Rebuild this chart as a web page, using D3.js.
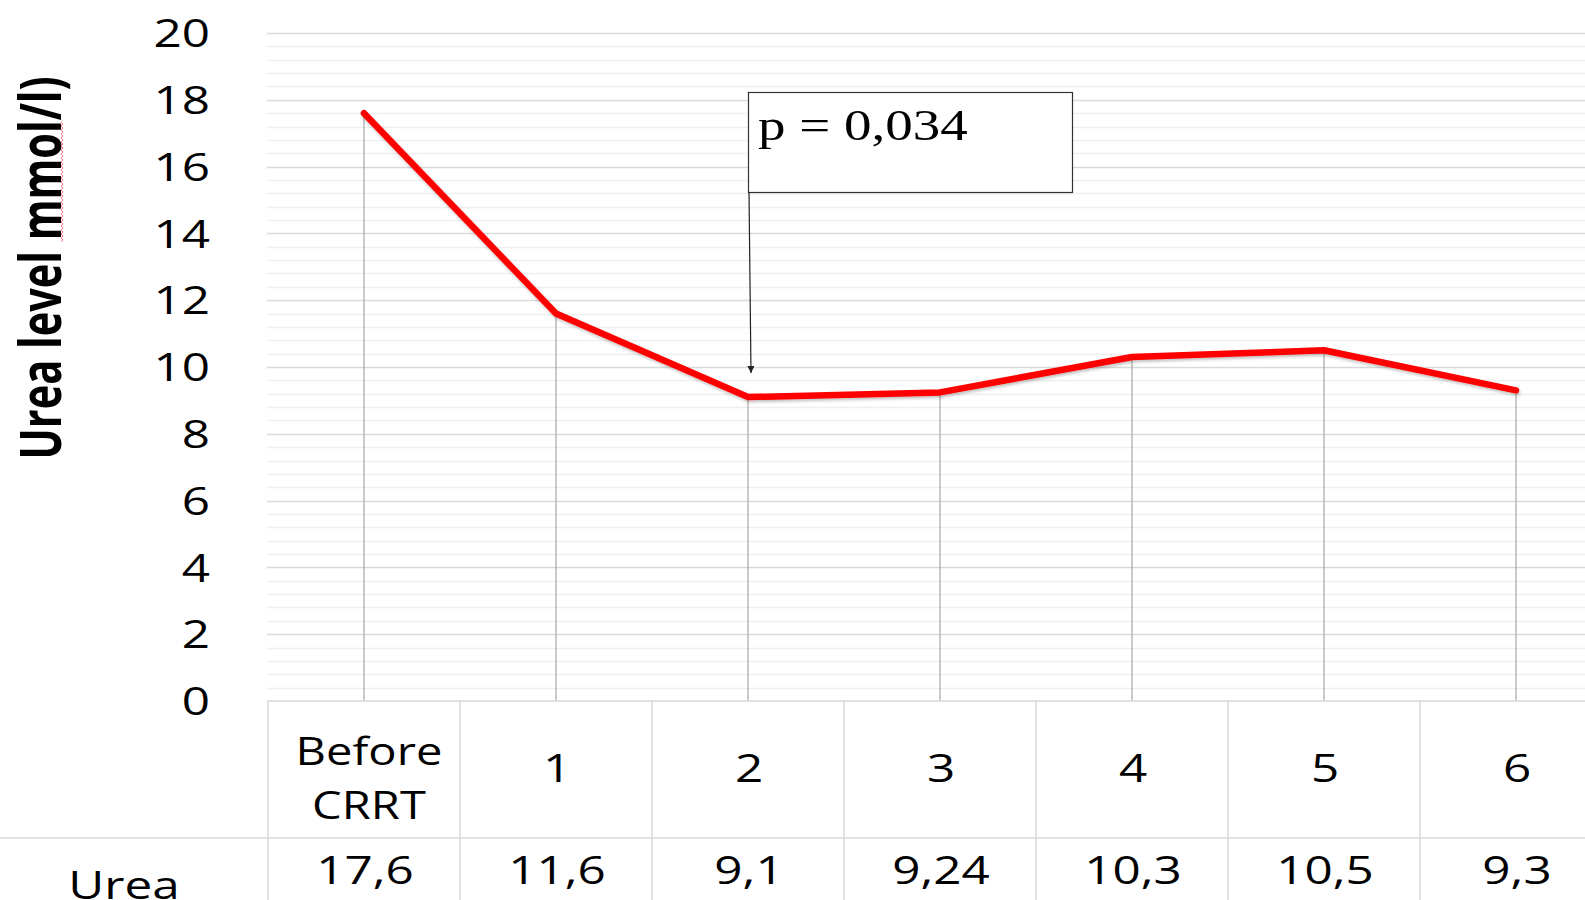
<!DOCTYPE html>
<html>
<head>
<meta charset="utf-8">
<script src="https://cdn.jsdelivr.net/npm/d3@7"></script>
<style>
  html, body { margin: 0; padding: 0; background: #fff; }
  svg { display: block; }
  text { font-family: "Open Sans", sans-serif; fill: #000; }
</style>
</head>
<body>
<svg id="chart" width="1585" height="900"></svg>
<script>
// Urea level per time point, with the data table underneath
const categories = ["Before CRRT", "1", "2", "3", "4", "5", "6"];
const ureaValues = [17.6, 11.6, 9.1, 9.24, 10.3, 10.5, 9.3];
const seriesName = "Urea";
const yTicks = [0, 2, 4, 6, 8, 10, 12, 14, 16, 18, 20];
const yTitle = "Urea level mmol/l)";
const pLabel = "p = 0,034";
const pIndex = 2;

const W = 1585, H = 900;
const stretch = 1.3;               // horizontal text stretch of the slide
const plotTop = 33, plotBottom = 701, plotLeft = 267;
const colW = 192;
const headerBottom = 838;

const svg = d3.select("#chart");
svg.append("rect").attr("width", W).attr("height", H).attr("fill", "#fff");

const x = d3.scaleBand()
  .domain(categories)
  .range([plotLeft + 1, plotLeft + 1 + colW * categories.length])
  .padding(0);
const cx = d => x(d) + x.bandwidth() / 2;

const y = d3.scaleLinear().domain([0, 20]).range([plotBottom, plotTop]);

const decimal = v => String(v).replace(".", ",");

// minor and major horizontal gridlines
const minor = d3.range(0, 20.001, 0.4).filter(v => Math.abs(v / 2 - Math.round(v / 2)) > 1e-6);
svg.append("g").selectAll("line").data(minor).join("line")
  .attr("x1", plotLeft).attr("x2", W)
  .attr("y1", d => Math.round(y(d)) + 0.5).attr("y2", d => Math.round(y(d)) + 0.5)
  .attr("stroke", "#efefef").attr("stroke-width", 1.5);
svg.append("g").selectAll("line").data(yTicks.filter(v => v > 0)).join("line")
  .attr("x1", plotLeft).attr("x2", W)
  .attr("y1", d => Math.round(y(d)) + 0.5).attr("y2", d => Math.round(y(d)) + 0.5)
  .attr("stroke", "#d9d9d9").attr("stroke-width", 1.5);

// y axis tick labels
const yAxis = svg.append("g")
  .attr("transform", `translate(210,0)`)
  .call(d3.axisLeft(y).tickValues(yTicks).tickSize(0).tickPadding(0));
yAxis.select(".domain").remove();
yAxis.selectAll("text")
  .attr("x", 0).attr("dy", "0.36em")
  .attr("transform", `scale(${stretch},1)`)
  .style("font-family", "'Open Sans', sans-serif")
  .style("font-size", "38px")
  .attr("fill", "#000");

// y axis title
const titleG = svg.append("g").attr("transform", `translate(61,268) scale(${stretch},1) rotate(-90)`);
titleG.append("text")
  .attr("text-anchor", "middle")
  .attr("textLength", 383)
  .attr("lengthAdjust", "spacingAndGlyphs")
  .style("font-size", "44px")
  .style("font-weight", "700")
  .text(yTitle);

// spell-check squiggle under "mmol"
const squiggle = d3.path();
squiggle.moveTo(61, 242);
for (let yy = 242, k = 0; yy > 123; yy -= 2, k++) squiggle.lineTo(k % 2 ? 61 : 63, yy - 2);
svg.append("path").attr("d", squiggle.toString())
  .attr("fill", "none").attr("stroke", "#f08080").attr("stroke-width", 1);

// drop lines from each point to the baseline
svg.append("g").selectAll("line").data(categories).join("line")
  .attr("x1", d => cx(d)).attr("x2", d => cx(d))
  .attr("y1", (d, i) => y(ureaValues[i])).attr("y2", y(0))
  .attr("stroke", "#a6a6a6").attr("stroke-width", 1.2);

// series line
const defs = svg.append("defs");
const shadow = defs.append("filter").attr("id", "lineShadow")
  .attr("x", "-5%").attr("y", "-5%").attr("width", "110%").attr("height", "120%");
shadow.append("feDropShadow").attr("dx", 1).attr("dy", 2).attr("stdDeviation", 1.5)
  .attr("flood-color", "#000").attr("flood-opacity", 0.25);

const line = d3.line().x((d, i) => cx(categories[i])).y(d => y(d));
svg.append("path")
  .datum(ureaValues)
  .attr("d", line)
  .attr("fill", "none")
  .attr("stroke", "#ff0000")
  .attr("stroke-width", 6.5)
  .attr("stroke-linejoin", "round")
  .attr("stroke-linecap", "round")
  .attr("filter", "url(#lineShadow)");

// p-value callout with arrow to the annotated point
defs.append("marker").attr("id", "arrowHead")
  .attr("viewBox", "0 0 10 10").attr("refX", 10).attr("refY", 5)
  .attr("markerWidth", 7).attr("markerHeight", 7).attr("orient", "auto")
  .attr("markerUnits", "userSpaceOnUse")
  .append("path").attr("d", "M0,0 L10,5 L0,10 Z").attr("fill", "#222");

const boxX = cx(categories[pIndex]), boxY = 92, boxW = 324, boxH = 100;
svg.append("rect")
  .attr("x", boxX + 0.5).attr("y", boxY + 0.5).attr("width", boxW).attr("height", boxH)
  .attr("fill", "#fff").attr("stroke", "#333").attr("stroke-width", 1.2);
svg.append("text")
  .attr("transform", `translate(${boxX + 10},140) scale(1.25,1)`)
  .style("font-family", "'Liberation Serif', 'Times New Roman', serif")
  .style("font-size", "44px")
  .text(pLabel);
svg.append("line")
  .attr("x1", boxX + 1).attr("y1", boxY + boxH)
  .attr("x2", boxX + 3).attr("y2", y(ureaValues[pIndex]) - 24)
  .attr("stroke", "#222").attr("stroke-width", 1.2)
  .attr("marker-end", "url(#arrowHead)");

// data table: borders
const grid = svg.append("g").attr("stroke", "#d9d9d9").attr("stroke-width", 1.5);
grid.append("line").attr("x1", plotLeft).attr("x2", W).attr("y1", plotBottom).attr("y2", plotBottom);
grid.append("line").attr("x1", 0).attr("x2", W).attr("y1", headerBottom).attr("y2", headerBottom);
grid.selectAll("line.col").data(categories).join("line").attr("class", "col")
  .attr("x1", d => x(d)).attr("x2", d => x(d))
  .attr("y1", plotBottom).attr("y2", H);

// header row: category names
const header = svg.append("g").selectAll("g").data(categories).join("g")
  .attr("transform", d => `translate(${cx(d) + (d.includes(" ") ? 5 : 1)},0)`);
header.each(function (d) {
  const parts = d.split(" ");
  const g = d3.select(this);
  const lineH = 54;
  const startY = 782 - (parts.length - 1) * (lineH / 2 - 10);
  parts.forEach((p, k) => {
    g.append("text")
      .attr("transform", `translate(0,${startY + k * lineH}) scale(${parts.length > 1 ? 1.24 : stretch},1)`)
      .attr("text-anchor", "middle")
      .style("font-size", "38px")
      .text(p);
  });
});

// value row
svg.append("g").selectAll("text").data(categories).join("text")
  .attr("transform", (d, i) => `translate(${cx(d) + 1},884) scale(${stretch},1)`)
  .attr("text-anchor", "middle")
  .style("font-size", "38px")
  .text((d, i) => decimal(ureaValues[i]));

svg.append("text")
  .attr("transform", `translate(124,899) scale(${stretch},1)`)
  .attr("text-anchor", "middle")
  .style("font-size", "38px")
  .text(seriesName);
</script>
</body>
</html>
